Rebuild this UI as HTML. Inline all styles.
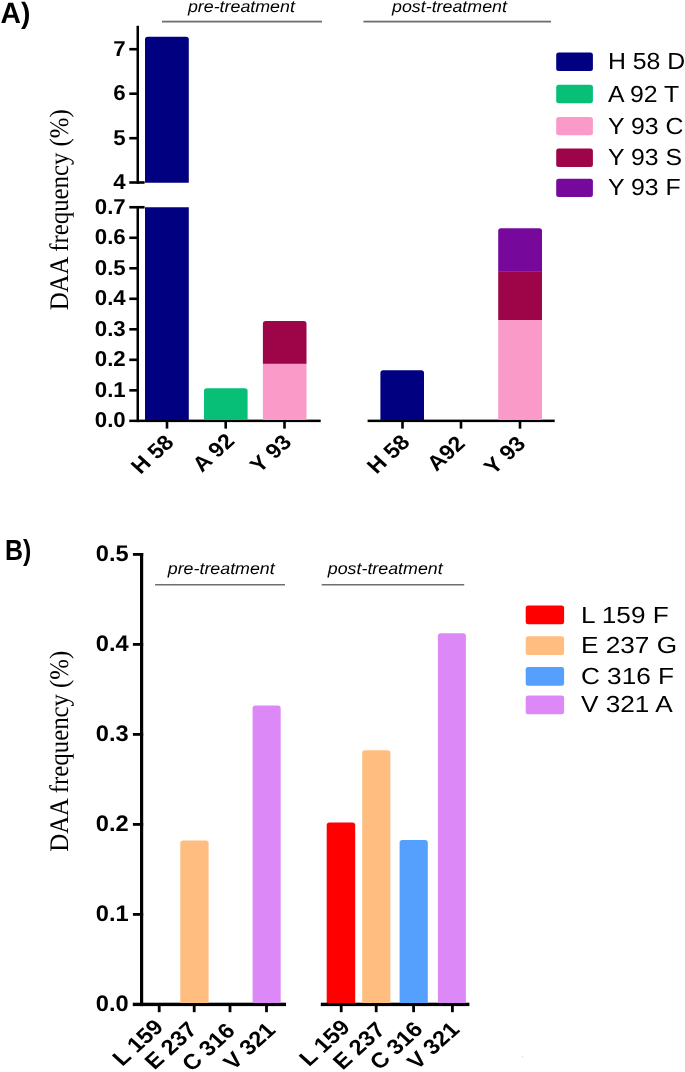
<!DOCTYPE html>
<html><head><meta charset="utf-8"><title>DAA frequency</title>
<style>
html,body{margin:0;padding:0;background:#fff;}
body{width:685px;height:1072px;overflow:hidden;font-family:"Liberation Sans",sans-serif;}
svg{display:block;will-change:transform;}
text{text-rendering:geometricPrecision;}
</style></head><body>
<svg width="685" height="1072" viewBox="0 0 685 1072">
<text transform="translate(0.50,22.60) scale(0.965,1)" font-family="Liberation Sans" font-size="29.3" font-weight="bold" font-style="normal" text-anchor="start" fill="#000">A)</text>
<rect x="136.50" y="25.80" width="2.50" height="158.00" fill="#000"/>
<rect x="136.50" y="206.00" width="2.50" height="216.10" fill="#000"/>
<rect x="129.30" y="47.90" width="9.70" height="2.60" fill="#000"/>
<rect x="129.30" y="92.40" width="9.70" height="2.60" fill="#000"/>
<rect x="129.30" y="136.90" width="9.70" height="2.60" fill="#000"/>
<rect x="129.30" y="181.20" width="15.30" height="2.60" fill="#000"/>
<rect x="129.30" y="389.04" width="9.70" height="2.60" fill="#000"/>
<rect x="129.30" y="358.52" width="9.70" height="2.60" fill="#000"/>
<rect x="129.30" y="328.01" width="9.70" height="2.60" fill="#000"/>
<rect x="129.30" y="297.49" width="9.70" height="2.60" fill="#000"/>
<rect x="129.30" y="266.98" width="9.70" height="2.60" fill="#000"/>
<rect x="129.30" y="236.47" width="9.70" height="2.60" fill="#000"/>
<rect x="129.30" y="205.95" width="15.30" height="2.60" fill="#000"/>
<rect x="129.30" y="419.60" width="191.40" height="2.50" fill="#000"/>
<rect x="367.60" y="419.60" width="187.10" height="2.50" fill="#000"/>
<rect x="165.70" y="421.00" width="2.60" height="7.60" fill="#000"/>
<rect x="224.40" y="421.00" width="2.60" height="7.60" fill="#000"/>
<rect x="283.20" y="421.00" width="2.60" height="7.60" fill="#000"/>
<rect x="401.20" y="421.00" width="2.60" height="7.60" fill="#000"/>
<rect x="459.70" y="421.00" width="2.60" height="7.60" fill="#000"/>
<rect x="518.70" y="421.00" width="2.60" height="7.60" fill="#000"/>
<path d="M145.00,182.80 V39.50 Q145.00,36.70 147.80,36.70 H186.00 Q188.80,36.70 188.80,39.50 V182.80 Z" fill="#000080"/>
<path d="M145.00,420.00 V207.20 H188.80 V420.00 Z" fill="#000080"/>
<path d="M204.00,420.00 V391.00 Q204.00,388.20 206.80,388.20 H244.80 Q247.60,388.20 247.60,391.00 V420.00 Z" fill="#08bf77"/>
<path d="M262.90,364.00 V323.80 Q262.90,321.00 265.70,321.00 H303.70 Q306.50,321.00 306.50,323.80 V364.00 Z" fill="#9e0549"/>
<path d="M262.90,420.00 V363.70 H306.50 V420.00 Z" fill="#f99ac8"/>
<path d="M380.40,420.00 V373.10 Q380.40,370.30 383.20,370.30 H421.20 Q424.00,370.30 424.00,373.10 V420.00 Z" fill="#000080"/>
<path d="M498.20,271.60 V231.00 Q498.20,228.20 501.00,228.20 H539.20 Q542.00,228.20 542.00,231.00 V271.60 Z" fill="#76089c"/>
<path d="M498.20,320.30 V271.20 H542.00 V320.30 Z" fill="#9e0549"/>
<path d="M498.20,420.00 V320.00 H542.00 V420.00 Z" fill="#f99ac8"/>
<text transform="translate(125.70,55.50) scale(1.030,1)" font-family="Liberation Sans" font-size="21.6" font-weight="bold" font-style="normal" text-anchor="end" fill="#000">7</text>
<text transform="translate(125.70,100.00) scale(1.030,1)" font-family="Liberation Sans" font-size="21.6" font-weight="bold" font-style="normal" text-anchor="end" fill="#000">6</text>
<text transform="translate(125.70,144.50) scale(1.030,1)" font-family="Liberation Sans" font-size="21.6" font-weight="bold" font-style="normal" text-anchor="end" fill="#000">5</text>
<text transform="translate(125.70,188.80) scale(1.030,1)" font-family="Liberation Sans" font-size="21.6" font-weight="bold" font-style="normal" text-anchor="end" fill="#000">4</text>
<text transform="translate(125.70,427.15) scale(1.030,1)" font-family="Liberation Sans" font-size="21.6" font-weight="bold" font-style="normal" text-anchor="end" fill="#000">0.0</text>
<text transform="translate(125.70,396.64) scale(1.030,1)" font-family="Liberation Sans" font-size="21.6" font-weight="bold" font-style="normal" text-anchor="end" fill="#000">0.1</text>
<text transform="translate(125.70,366.12) scale(1.030,1)" font-family="Liberation Sans" font-size="21.6" font-weight="bold" font-style="normal" text-anchor="end" fill="#000">0.2</text>
<text transform="translate(125.70,335.61) scale(1.030,1)" font-family="Liberation Sans" font-size="21.6" font-weight="bold" font-style="normal" text-anchor="end" fill="#000">0.3</text>
<text transform="translate(125.70,305.09) scale(1.030,1)" font-family="Liberation Sans" font-size="21.6" font-weight="bold" font-style="normal" text-anchor="end" fill="#000">0.4</text>
<text transform="translate(125.70,274.58) scale(1.030,1)" font-family="Liberation Sans" font-size="21.6" font-weight="bold" font-style="normal" text-anchor="end" fill="#000">0.5</text>
<text transform="translate(125.70,244.07) scale(1.030,1)" font-family="Liberation Sans" font-size="21.6" font-weight="bold" font-style="normal" text-anchor="end" fill="#000">0.6</text>
<text transform="translate(125.70,213.55) scale(1.030,1)" font-family="Liberation Sans" font-size="21.6" font-weight="bold" font-style="normal" text-anchor="end" fill="#000">0.7</text>
<text transform="translate(67.90,310.30) rotate(-90) scale(0.925,1)" font-family="Liberation Serif" font-size="26.8" font-weight="normal" font-style="normal" text-anchor="start" fill="#000">DAA frequency (%)</text>
<text transform="translate(175.05,443.70) scale(1.100,1) rotate(-45)" font-family="Liberation Sans" font-size="21" font-weight="bold" font-style="normal" text-anchor="end" fill="#000">H 58</text>
<text transform="translate(235.80,442.15) scale(1.100,1) rotate(-45)" font-family="Liberation Sans" font-size="21" font-weight="bold" font-style="normal" text-anchor="end" fill="#000">A 92</text>
<text transform="translate(292.80,443.55) scale(1.100,1) rotate(-45)" font-family="Liberation Sans" font-size="21" font-weight="bold" font-style="normal" text-anchor="end" fill="#000">Y 93</text>
<text transform="translate(411.05,443.45) scale(1.100,1) rotate(-45)" font-family="Liberation Sans" font-size="21" font-weight="bold" font-style="normal" text-anchor="end" fill="#000">H 58</text>
<text transform="translate(466.45,444.65) scale(1.100,1) rotate(-45)" font-family="Liberation Sans" font-size="21" font-weight="bold" font-style="normal" text-anchor="end" fill="#000">A92</text>
<text transform="translate(526.90,445.10) scale(1.100,1) rotate(-45)" font-family="Liberation Sans" font-size="21" font-weight="bold" font-style="normal" text-anchor="end" fill="#000">Y 93</text>
<text transform="translate(187.90,12.00) scale(1.080,1)" font-family="Liberation Sans" font-size="16.5" font-weight="normal" font-style="italic" text-anchor="start" fill="#000">pre-treatment</text>
<rect x="162.00" y="20.70" width="160.00" height="1.80" fill="#6e6e6e"/>
<text transform="translate(392.05,12.00) scale(1.080,1)" font-family="Liberation Sans" font-size="16.5" font-weight="normal" font-style="italic" text-anchor="start" fill="#000">post-treatment</text>
<rect x="363.40" y="20.70" width="187.60" height="1.80" fill="#6e6e6e"/>
<rect x="556.20" y="52.60" width="36.70" height="18.40" rx="2.5" fill="#000080"/>
<text transform="translate(608.00,69.25) scale(1.070,1)" font-family="Liberation Sans" font-size="23.2" font-weight="normal" font-style="normal" text-anchor="start" fill="#000">H 58 D</text>
<rect x="556.20" y="84.80" width="36.70" height="18.40" rx="2.5" fill="#08bf77"/>
<text transform="translate(608.00,101.75) scale(1.070,1)" font-family="Liberation Sans" font-size="23.2" font-weight="normal" font-style="normal" text-anchor="start" fill="#000">A 92 T</text>
<rect x="556.20" y="116.90" width="36.70" height="18.40" rx="2.5" fill="#f99ac8"/>
<text transform="translate(608.00,133.50) scale(1.070,1)" font-family="Liberation Sans" font-size="23.2" font-weight="normal" font-style="normal" text-anchor="start" fill="#000">Y 93 C</text>
<rect x="556.20" y="148.60" width="36.70" height="18.40" rx="2.5" fill="#9e0549"/>
<text transform="translate(608.00,165.25) scale(1.070,1)" font-family="Liberation Sans" font-size="23.2" font-weight="normal" font-style="normal" text-anchor="start" fill="#000">Y 93 S</text>
<rect x="556.20" y="178.70" width="36.70" height="18.40" rx="2.5" fill="#76089c"/>
<text transform="translate(608.00,195.10) scale(1.070,1)" font-family="Liberation Sans" font-size="23.2" font-weight="normal" font-style="normal" text-anchor="start" fill="#000">Y 93 F</text>
<text transform="translate(4.90,559.90) scale(0.860,1)" font-family="Liberation Sans" font-size="29" font-weight="bold" font-style="normal" text-anchor="start" fill="#000">B)</text>
<rect x="140.00" y="553.00" width="3.20" height="453.10" fill="#000"/>
<rect x="132.90" y="913.00" width="10.30" height="2.80" fill="#000"/>
<rect x="132.90" y="823.00" width="10.30" height="2.80" fill="#000"/>
<rect x="132.90" y="733.00" width="10.30" height="2.80" fill="#000"/>
<rect x="132.90" y="643.00" width="10.30" height="2.80" fill="#000"/>
<rect x="132.90" y="553.00" width="10.30" height="2.80" fill="#000"/>
<rect x="132.80" y="1002.70" width="153.20" height="3.40" fill="#000"/>
<rect x="320.80" y="1002.70" width="148.60" height="3.40" fill="#000"/>
<rect x="157.80" y="1005.00" width="2.80" height="7.20" fill="#000"/>
<rect x="192.80" y="1005.00" width="2.80" height="7.20" fill="#000"/>
<rect x="228.60" y="1005.00" width="2.80" height="7.20" fill="#000"/>
<rect x="265.10" y="1005.00" width="2.80" height="7.20" fill="#000"/>
<rect x="339.80" y="1005.00" width="2.80" height="7.20" fill="#000"/>
<rect x="374.80" y="1005.00" width="2.80" height="7.20" fill="#000"/>
<rect x="412.20" y="1005.00" width="2.80" height="7.20" fill="#000"/>
<rect x="451.00" y="1005.00" width="2.80" height="7.20" fill="#000"/>
<text transform="translate(128.70,1011.10) scale(1.050,1)" font-family="Liberation Sans" font-size="22.5" font-weight="bold" font-style="normal" text-anchor="end" fill="#000">0.0</text>
<text transform="translate(128.70,921.10) scale(1.050,1)" font-family="Liberation Sans" font-size="22.5" font-weight="bold" font-style="normal" text-anchor="end" fill="#000">0.1</text>
<text transform="translate(128.70,831.10) scale(1.050,1)" font-family="Liberation Sans" font-size="22.5" font-weight="bold" font-style="normal" text-anchor="end" fill="#000">0.2</text>
<text transform="translate(128.70,741.10) scale(1.050,1)" font-family="Liberation Sans" font-size="22.5" font-weight="bold" font-style="normal" text-anchor="end" fill="#000">0.3</text>
<text transform="translate(128.70,651.10) scale(1.050,1)" font-family="Liberation Sans" font-size="22.5" font-weight="bold" font-style="normal" text-anchor="end" fill="#000">0.4</text>
<text transform="translate(128.70,561.10) scale(1.050,1)" font-family="Liberation Sans" font-size="22.5" font-weight="bold" font-style="normal" text-anchor="end" fill="#000">0.5</text>
<path d="M180.30,1003.00 V843.40 Q180.30,840.60 183.10,840.60 H205.80 Q208.60,840.60 208.60,843.40 V1003.00 Z" fill="#ffbd80"/>
<path d="M252.60,1003.00 V708.40 Q252.60,705.60 255.40,705.60 H277.90 Q280.70,705.60 280.70,708.40 V1003.00 Z" fill="#dc89f7"/>
<path d="M326.70,1003.00 V825.30 Q326.70,822.50 329.50,822.50 H352.40 Q355.20,822.50 355.20,825.30 V1003.00 Z" fill="#ff0000"/>
<path d="M362.20,1003.00 V753.10 Q362.20,750.30 365.00,750.30 H387.60 Q390.40,750.30 390.40,753.10 V1003.00 Z" fill="#ffbd80"/>
<path d="M399.60,1003.00 V842.80 Q399.60,840.00 402.40,840.00 H425.00 Q427.80,840.00 427.80,842.80 V1003.00 Z" fill="#56a0fd"/>
<path d="M437.90,1003.00 V636.10 Q437.90,633.30 440.70,633.30 H463.10 Q465.90,633.30 465.90,636.10 V1003.00 Z" fill="#dc89f7"/>
<text transform="translate(67.90,851.70) rotate(-90) scale(0.925,1)" font-family="Liberation Serif" font-size="26.8" font-weight="normal" font-style="normal" text-anchor="start" fill="#000">DAA frequency (%)</text>
<text transform="translate(164.65,1028.35) scale(1.100,1) rotate(-45)" font-family="Liberation Sans" font-size="21.5" font-weight="bold" font-style="normal" text-anchor="end" fill="#000">L 159</text>
<text transform="translate(198.30,1030.80) scale(1.100,1) rotate(-45)" font-family="Liberation Sans" font-size="21.5" font-weight="bold" font-style="normal" text-anchor="end" fill="#000">E 237</text>
<text transform="translate(236.40,1032.05) scale(1.100,1) rotate(-45)" font-family="Liberation Sans" font-size="21.5" font-weight="bold" font-style="normal" text-anchor="end" fill="#000">C 316</text>
<text transform="translate(276.90,1031.20) scale(1.100,1) rotate(-45)" font-family="Liberation Sans" font-size="21.5" font-weight="bold" font-style="normal" text-anchor="end" fill="#000">V 321</text>
<text transform="translate(351.40,1028.65) scale(1.100,1) rotate(-45)" font-family="Liberation Sans" font-size="21.5" font-weight="bold" font-style="normal" text-anchor="end" fill="#000">L 159</text>
<text transform="translate(386.45,1030.95) scale(1.100,1) rotate(-45)" font-family="Liberation Sans" font-size="21.5" font-weight="bold" font-style="normal" text-anchor="end" fill="#000">E 237</text>
<text transform="translate(424.05,1030.55) scale(1.100,1) rotate(-45)" font-family="Liberation Sans" font-size="21.5" font-weight="bold" font-style="normal" text-anchor="end" fill="#000">C 316</text>
<text transform="translate(460.70,1030.70) scale(1.100,1) rotate(-45)" font-family="Liberation Sans" font-size="21.5" font-weight="bold" font-style="normal" text-anchor="end" fill="#000">V 321</text>
<text transform="translate(167.75,573.50) scale(1.080,1)" font-family="Liberation Sans" font-size="16.5" font-weight="normal" font-style="italic" text-anchor="start" fill="#000">pre-treatment</text>
<rect x="155.10" y="584.00" width="129.90" height="1.50" fill="#6e6e6e"/>
<text transform="translate(327.80,573.50) scale(1.080,1)" font-family="Liberation Sans" font-size="16.5" font-weight="normal" font-style="italic" text-anchor="start" fill="#000">post-treatment</text>
<rect x="321.70" y="584.00" width="142.50" height="1.50" fill="#6e6e6e"/>
<rect x="525.70" y="605.50" width="38.40" height="18.70" rx="2.5" fill="#ff0000"/>
<text transform="translate(580.90,622.50) scale(1.130,1)" font-family="Liberation Sans" font-size="23.2" font-weight="normal" font-style="normal" text-anchor="start" fill="#000">L 159 F</text>
<rect x="525.70" y="636.20" width="38.40" height="18.70" rx="2.5" fill="#ffbd80"/>
<text transform="translate(580.90,653.20) scale(1.130,1)" font-family="Liberation Sans" font-size="23.2" font-weight="normal" font-style="normal" text-anchor="start" fill="#000">E 237 G</text>
<rect x="525.70" y="667.00" width="38.40" height="18.70" rx="2.5" fill="#56a0fd"/>
<text transform="translate(580.90,684.00) scale(1.130,1)" font-family="Liberation Sans" font-size="23.2" font-weight="normal" font-style="normal" text-anchor="start" fill="#000">C 316 F</text>
<rect x="525.70" y="695.60" width="38.40" height="18.70" rx="2.5" fill="#dc89f7"/>
<text transform="translate(580.90,712.00) scale(1.130,1)" font-family="Liberation Sans" font-size="23.2" font-weight="normal" font-style="normal" text-anchor="start" fill="#000">V 321 A</text>
<circle cx="522.4" cy="1056.7" r="1.1" fill="#ececec"/>
</svg>
</body></html>
